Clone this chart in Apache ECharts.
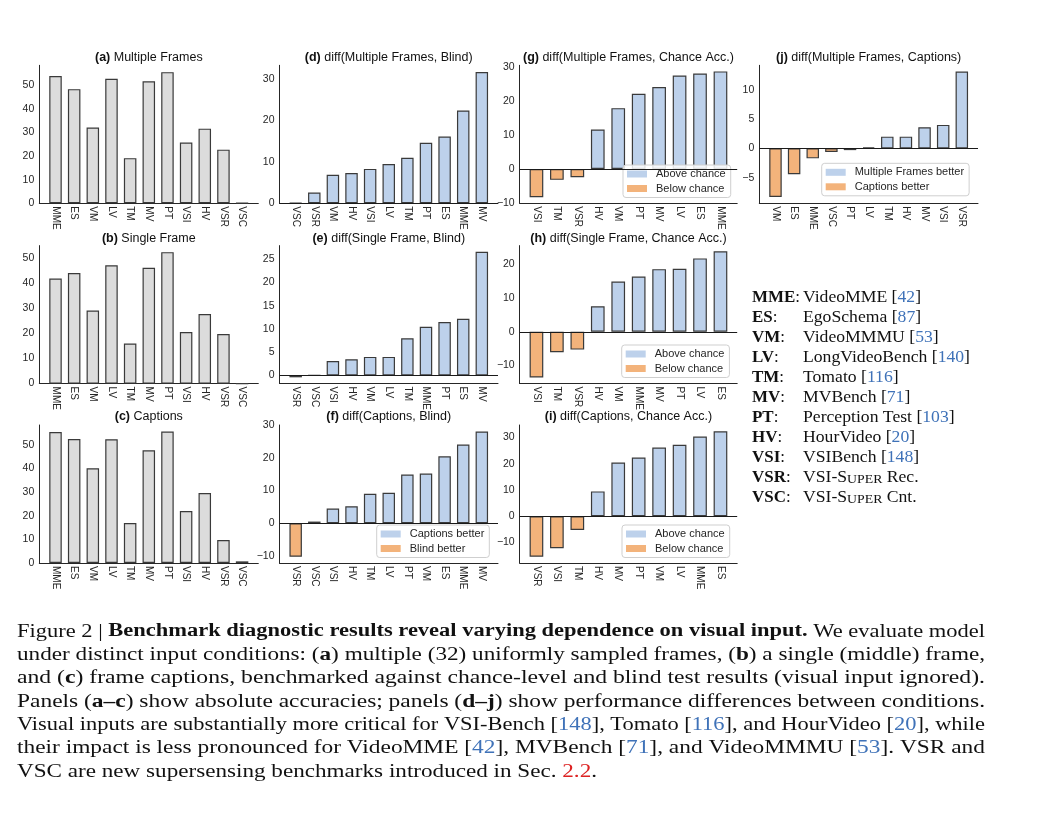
<!DOCTYPE html>
<html><head><meta charset="utf-8">
<script src="https://cdn.jsdelivr.net/npm/echarts@6/dist/echarts.min.js"></script>
<style>html,body{margin:0;padding:0;background:#fff}#c{width:1048px;height:816px}</style>
</head><body><div id="c"></div>
<script>
// ---------------- DATA ----------------
const benchmarks = ['MME','ES','VM','LV','TM','MV','PT','VSI','HV','VSR','VSC'];
const multipleFrames = [53.9, 48.3, 32.1, 52.7, 19.1, 51.6, 55.5, 25.7, 31.6, 22.7, 0.1];
const singleFrame    = [41.7, 43.9, 29.0, 47.0, 15.9, 46.0, 52.2, 20.5, 27.6, 19.7, 0.0];
const captionsAcc    = [55.4, 52.5, 40.1, 52.4, 16.9, 47.7, 55.6, 22.0, 29.6, 9.7, 0.7];

const catsD = ['VSC','VSR','VM','HV','VSI','LV','TM','PT','ES','MME','MV'];
const valsD = [0.1, 2.6, 6.9, 7.3, 8.3, 9.5, 11.0, 14.6, 16.1, 22.4, 31.7];
const catsE = ['VSR','VSC','VSI','HV','VM','LV','TM','MME','PT','ES','MV'];
const valsE = [-0.4, 0.0, 3.1, 3.5, 4.0, 4.0, 8.0, 10.5, 11.5, 12.2, 26.6];
const catsF = ['VSR','VSC','VSI','HV','TM','LV','PT','VM','ES','MME','MV'];
const valsF = [-10.3, 0.5, 4.5, 5.2, 9.0, 9.3, 14.9, 15.2, 20.5, 24.1, 28.1];
const catsG = ['VSI','TM','VSR','HV','VM','PT','MV','LV','ES','MME'];
const valsG = [-8.3, -3.2, -2.4, 11.6, 17.9, 22.1, 24.1, 27.5, 28.1, 28.7];
const catsH = ['VSI','TM','VSR','HV','VM','MME','MV','PT','LV','ES'];
const valsH = [-13.6, -6.1, -5.3, 7.6, 14.9, 16.4, 18.6, 18.7, 21.8, 23.9];
const catsI = ['VSR','VSI','TM','HV','MV','PT','VM','LV','MME','ES'];
const valsI = [-15.4, -12.2, -5.2, 9.5, 20.5, 22.4, 26.2, 27.3, 30.4, 32.4];
const catsJ = ['VM','ES','MME','VSC','PT','LV','TM','HV','MV','VSI','VSR'];
const valsJ = [-8.3, -4.4, -1.7, -0.6, -0.3, 0.2, 2.0, 2.0, 3.6, 4.0, 13.1];

const ticksAbs = [0, 10, 20, 30, 40, 50];
const ticksD = [0, 10, 20, 30];
const ticksE = [0, 5, 10, 15, 20, 25];
const ticksF = [-10, 0, 10, 20, 30];
const ticksG = [-10, 0, 10, 20, 30];
const ticksH = [-10, 0, 10, 20];
const ticksI = [-10, 0, 10, 20, 30];
const ticksJ = [-5, 0, 5, 10];

const legendF = ['Captions better', 'Blind better'];
const legendChance = ['Above chance', 'Below chance'];
const legendJ = ['Multiple Frames better', 'Captions better'];

const abbrevs = ['MME','ES','VM','LV','TM','MV','PT','HV','VSI','VSR','VSC'];
const fullNames = ['VideoMME','EgoSchema','VideoMMMU','LongVideoBench','Tomato','MVBench','Perception Test','HourVideo','VSIBench'];
const citations = ['42','87','53','140','116','71','103','20','148'];

// ---------------- STYLE / LAYOUT ----------------
const SANS = '"Liberation Sans", Arial, Helvetica, sans-serif';
const SERIF = '"Liberation Serif", "Times New Roman", serif';
const AXC = '#262626';
const GRAY = '#dcdcdc', BLUE = '#bdd1eb', ORANGE = '#f3b37b', EDGE = '#3a3a3a';
const CITE = '#3f72b8', RED = '#dd2222';
const BAR_W = 0.67;
const colLeft = [39.3, 279.5, 519.7, 759.3];
const colWidth = [219, 218.5, 217.5, 218.7];
const rowTop = [65.3, 245.6, 425];
const rowTitleY = [58, 238.3, 416.7];
const H = 138;

const panels = [
  {key:'a', label:'(a)', name:' Multiple Frames', cats:benchmarks, vals:multipleFrames, yMin:0, yMax:58.4, ticks:ticksAbs, col:0, row:0, abs:true},
  {key:'b', label:'(b)', name:' Single Frame', cats:benchmarks, vals:singleFrame, yMin:0, yMax:54.8, ticks:ticksAbs, col:0, row:1, abs:true},
  {key:'c', label:'(c)', name:' Captions', cats:benchmarks, vals:captionsAcc, yMin:0, yMax:58.4, ticks:ticksAbs, col:0, row:2, abs:true},
  {key:'d', label:'(d)', name:' diff(Multiple Frames, Blind)', cats:catsD, vals:valsD, yMin:0, yMax:33.3, ticks:ticksD, col:1, row:0},
  {key:'e', label:'(e)', name:' diff(Single Frame, Blind)', cats:catsE, vals:valsE, yMin:-1.75, yMax:27.95, ticks:ticksE, col:1, row:1},
  {key:'f', label:'(f)', name:' diff(Captions, Blind)', cats:catsF, vals:valsF, yMin:-12.2, yMax:30.1, ticks:ticksF, col:1, row:2, legend:legendF, lpos:[376.7, 525]},
  {key:'g', label:'(g)', name:' diff(Multiple Frames, Chance Acc.)', cats:catsG, vals:valsG, yMin:-10.1, yMax:30.5, ticks:ticksG, col:2, row:0, legend:legendChance, lpos:[623, 165]},
  {key:'h', label:'(h)', name:' diff(Single Frame, Chance Acc.)', cats:catsH, vals:valsH, yMin:-15.4, yMax:25.6, ticks:ticksH, col:2, row:1, legend:legendChance, lpos:[621.7, 345]},
  {key:'i', label:'(i)', name:' diff(Captions, Chance Acc.)', cats:catsI, vals:valsI, yMin:-17.8, yMax:34.8, ticks:ticksI, col:2, row:2, legend:legendChance, lpos:[622, 525]},
  {key:'j', label:'(j)', name:' diff(Multiple Frames, Captions)', cats:catsJ, vals:valsJ, yMin:-9.37, yMax:14.17, ticks:ticksJ, col:3, row:0, legend:legendJ, lpos:[821.7, 163.3]}
];

const fmtTick = v => String(v).replace('-', '\u2212');

const grids = [], xAxes = [], yAxes = [], series = [], legends = [], graphics = [];

panels.forEach((p, k) => {
  const n = p.cats.length;
  const pad = BAR_W / 2 + 0.05 * (n - 1 + BAR_W);
  const left = colLeft[p.col], width = colWidth[p.col], top = rowTop[p.row];
  const pitch = width / (n - 1 + 2 * pad);
  grids.push({left, top, width, height: H, containLabel: false});
  const cats = p.cats;
  xAxes.push({
    type: 'value', gridIndex: k, min: -pad, max: n - 1 + pad,
    axisLine: {show: true, onZero: false, lineStyle: {color: AXC, width: 1}},
    axisTick: {show: false}, splitLine: {show: false},
    axisLabel: {
      customValues: cats.map((_, i) => i),
      formatter: v => cats[Math.round(v)] || '',
      rotate: -90, margin: 3, fontSize: 10, fontFamily: SANS, color: AXC
    }
  });
  yAxes.push({
    type: 'value', gridIndex: k, min: p.yMin, max: p.yMax,
    axisLine: {show: true, onZero: false, lineStyle: {color: AXC, width: 1}},
    axisTick: {show: false}, splitLine: {show: false},
    axisLabel: {customValues: p.ticks, formatter: fmtTick, margin: 5, fontSize: 10.5, fontFamily: SANS, color: AXC}
  });
  const bw = BAR_W * pitch;
  if (p.abs) {
    series.push({
      type: 'bar', name: p.key + '_abs', xAxisIndex: k, yAxisIndex: k, barWidth: bw,
      data: p.vals.map((v, i) => [i, v]),
      itemStyle: {color: GRAY, borderColor: EDGE, borderWidth: 1.2}
    });
  } else {
    series.push({
      type: 'bar', name: p.key + '_pos', xAxisIndex: k, yAxisIndex: k, barWidth: bw, barGap: '-100%',
      data: p.vals.map((v, i) => [i, v >= 0 ? v : '-']),
      itemStyle: {color: BLUE, borderColor: EDGE, borderWidth: 1.2},
      markLine: {
        silent: true, symbol: ['none', 'none'], label: {show: false}, animation: false,
        lineStyle: {color: '#1a1a1a', width: 1, type: 'solid'},
        data: [{yAxis: 0}]
      }
    });
    series.push({
      type: 'bar', name: p.key + '_neg', xAxisIndex: k, yAxisIndex: k, barWidth: bw, barGap: '-100%',
      data: p.vals.map((v, i) => [i, v < 0 ? v : '-']),
      itemStyle: {color: ORANGE, borderColor: EDGE, borderWidth: 1.2}
    });
    if (p.legend) {
      const map = {};
      map[p.key + '_pos'] = p.legend[0];
      map[p.key + '_neg'] = p.legend[1];
      legends.push({
        orient: 'vertical', left: p.lpos[0], top: p.lpos[1],
        data: [p.key + '_pos', p.key + '_neg'],
        formatter: name => map[name],
        icon: 'rect', itemWidth: 20, itemHeight: 7, itemGap: 0.5,
        padding: [2, 5, 2, 4],
        backgroundColor: 'rgba(255,255,255,0.85)', borderColor: '#cfcfcf', borderWidth: 1, borderRadius: 3,
        selectedMode: false,
        itemStyle: {borderWidth: 0},
        textStyle: {fontFamily: SANS, fontSize: 11, color: AXC, lineHeight: 14, padding: [0, 0, 0, 4]}
      });
    }
  }
  graphics.push({
    type: 'text', silent: true,
    style: {
      x: left + width / 2, y: rowTitleY[p.row],
      text: '{b|' + p.label + '}{n|' + p.name + '}',
      align: 'center', textAlign: 'center', verticalAlign: 'middle', textVerticalAlign: 'middle',
      rich: {
        b: {fontFamily: SANS, fontSize: 12.5, fontWeight: 'bold', fill: '#111', color: '#111'},
        n: {fontFamily: SANS, fontSize: 12.5, fill: '#111', color: '#111'}
      }
    }
  });
});

// ---------------- TEXT BLOCKS ----------------
const mctx = document.createElement('canvas').getContext('2d');
function measure(segs, size, fam, rs) {
  let w = 0;
  segs.forEach(([t, s]) => {
    const sz = (rs[s] && rs[s].fontSize) || size;
    const wt = (rs[s] && rs[s].fontWeight) ? 'bold ' : '';
    mctx.font = wt + sz + 'px ' + fam;
    w += mctx.measureText(t).width;
  });
  return w;
}
function richStr(segs) { return segs.map(([t, s]) => '{' + s + '|' + t + '}').join(''); }
function richStyles(size) {
  return {
    n: {fontFamily: SERIF, fontSize: size, fill: '#111', color: '#111'},
    b: {fontFamily: SERIF, fontSize: size, fontWeight: 'bold', fill: '#111', color: '#111'},
    c: {fontFamily: SERIF, fontSize: size, fill: CITE, color: CITE},
    r: {fontFamily: SERIF, fontSize: size, fill: RED, color: RED},
    sc: {fontFamily: SERIF, fontSize: Math.round(size * 0.78 * 10) / 10, fill: '#111', color: '#111', verticalAlign: 'bottom'}
  };
}

// right-hand key
const KEY_SIZE = 16;
const keyRich = richStyles(KEY_SIZE);
const keyScale = 167 / measure([['LongVideoBench [', 'n'], ['140', 'c'], [']', 'n']], KEY_SIZE, '"Liberation Serif"', keyRich);
const abbrScale = 48 / measure([['MME', 'b'], [':', 'n']], KEY_SIZE, '"Liberation Serif"', keyRich);
const descSegs = fullNames.map((nm, i) => [[nm + ' [', 'n'], [citations[i], 'c'], [']', 'n']]);
descSegs.push([['VSI-S', 'n'], ['UPER', 'sc'], [' Rec.', 'n']]);
descSegs.push([['VSI-S', 'n'], ['UPER', 'sc'], [' Cnt.', 'n']]);
abbrevs.forEach((ab, i) => {
  const y = 298 + 20 * i;
  graphics.push({type: 'text', silent: true, x: 752, y: y, scaleX: abbrScale,
    style: {x: 0, y: 0, text: richStr([[ab, 'b'], [':', 'n']]), align: 'left', textAlign: 'left', verticalAlign: 'middle', textVerticalAlign: 'middle', rich: keyRich}});
  graphics.push({type: 'text', silent: true, x: 803, y: y, scaleX: keyScale,
    style: {x: 0, y: 0, text: richStr(descSegs[i]), align: 'left', textAlign: 'left', verticalAlign: 'middle', textVerticalAlign: 'middle', rich: keyRich}});
});

// caption
const CAP_SIZE = 18.5;
const capRich = richStyles(CAP_SIZE);
const capLines = [
  [['Figure 2 | ', 'n'], ['Benchmark diagnostic results reveal varying dependence on visual input.', 'b'], [' We evaluate model', 'n']],
  [['under distinct input conditions: (', 'n'], ['a', 'b'], [') multiple (32) uniformly sampled frames, (', 'n'], ['b', 'b'], [') a single (middle) frame,', 'n']],
  [['and (', 'n'], ['c', 'b'], [') frame captions, benchmarked against chance-level and blind test results (visual input ignored).', 'n']],
  [['Panels (', 'n'], ['a\u2013c', 'b'], [') show absolute accuracies; panels (', 'n'], ['d\u2013j', 'b'], [') show performance differences between conditions.', 'n']],
  [['Visual inputs are substantially more critical for VSI-Bench [', 'n'], ['148', 'c'], ['], Tomato [', 'n'], ['116', 'c'], ['], and HourVideo [', 'n'], ['20', 'c'], ['], while', 'n']],
  [['their impact is less pronounced for VideoMME [', 'n'], ['42', 'c'], ['], MVBench [', 'n'], ['71', 'c'], ['], and VideoMMMU [', 'n'], ['53', 'c'], [']. VSR and', 'n']],
  [['VSC are new supersensing benchmarks introduced in Sec. ', 'n'], ['2.2', 'r'], ['.', 'n']]
];
const capTargets = [968, 968, 968, 968, 968, 968, 580];
capLines.forEach((segs, i) => {
  const s = capTargets[i] / measure(segs, CAP_SIZE, '"Liberation Serif"', capRich);
  graphics.push({type: 'text', silent: true, x: 17, y: 631.7 + 23.35 * i, scaleX: s,
    style: {x: 0, y: 0, text: richStr(segs), align: 'left', textAlign: 'left', verticalAlign: 'middle', textVerticalAlign: 'middle', rich: capRich}});
});

const chart = echarts.init(document.getElementById('c'), null, {renderer: 'canvas'});
chart.setOption({
  animation: false,
  backgroundColor: '#ffffff',
  grid: grids, xAxis: xAxes, yAxis: yAxes, series: series, legend: legends,
  graphic: {elements: graphics}
});
</script>
</body></html>
